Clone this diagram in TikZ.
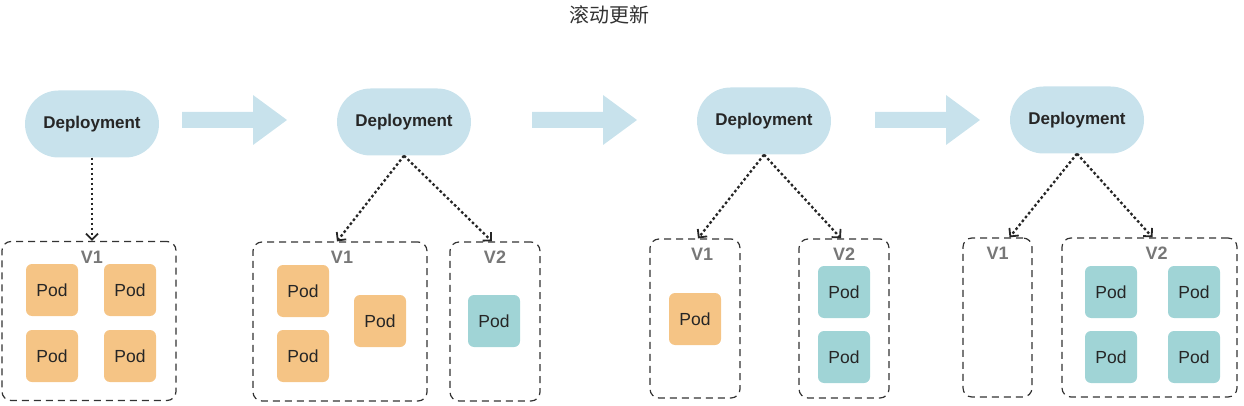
\documentclass[tikz,border=0pt]{standalone}
\usepackage{fontspec}
\setmainfont{Liberation Sans}
\newfontfamily\cjk{Noto Sans CJK SC}
\usetikzlibrary{arrows.meta}

\definecolor{deplblue}{HTML}{C8E2EC}
\definecolor{podorange}{HTML}{F5C485}
\definecolor{podteal}{HTML}{A0D4D6}
\definecolor{labelgray}{HTML}{777777}

\begin{document}
\begin{tikzpicture}[
      x=1pt, y=-1pt,
      every node/.style={font=\fontsize{17.5}{20}\selectfont, text=black!85},
      deploy/.style={fill=deplblue, rectangle, rounded corners=33.5pt,
        minimum width=134pt, minimum height=67pt, font=\fontsize{17}{20}\selectfont\bfseries},
      group/.style={draw=black!80, dash pattern=on 7pt off 5pt, line width=1.2pt,
        rounded corners=9pt, minimum height=159pt, inner sep=0pt},
      oldpod/.style={fill=podorange, rounded corners=6pt, minimum size=52pt, inner sep=0pt},
      newpod/.style={oldpod, fill=podteal},
      tag/.style={text=labelgray, font=\fontsize{18}{20}\selectfont\bfseries},
      link/.style={dash pattern=on 2.6pt off 2.4pt, line width=2.3pt, draw=black!85,
        -{Straight Barb[length=6pt,width=12pt,line width=1.8pt]}},
      flow/.style={fill=deplblue}
    ]
    \useasboundingbox (0,0) rectangle (1244,406);

    % Title
    \node[font=\cjk\fontsize{20}{22}\selectfont, text=black!80] (title) at (609,15) {滚动更新};

    % Deployments
    \node[deploy] (dep1) at (92,124) {Deployment};
    \node[deploy] (dep2) at (404,122) {Deployment};
    \node[deploy] (dep3) at (764,121) {Deployment};
    \node[deploy] (dep4) at (1077,120) {Deployment};

    % Big arrows between stages
    \foreach \x in {182,532,875}
      \fill[flow] (\x,112) -- ++(71,0) -- ++(0,-17) -- ++(34,25) -- ++(-34,25)
        -- ++(0,-17) -- ++(-71,0) -- cycle;

    % Groups
    \node[group, minimum width=174pt] (g11) at (89,321) {};
    \node[group, minimum width=174pt] (g21) at (340,321.5) {};
    \node[group, minimum width=90pt] (g22) at (495,321.5) {};
    \node[group, minimum width=90pt] (g31) at (695,318.5) {};
    \node[group, minimum width=90pt] (g32) at (844,318.5) {};
    \node[group, minimum width=69pt] (g41) at (997.5,317.5) {};
    \node[group, minimum width=175pt] (g42) at (1149.5,317.5) {};

    % Version tags
    \node[tag] (t11) at ([xshift=3pt,yshift=-16pt]g11.north) {V1};
    \node[tag] (t21) at ([xshift=2pt,yshift=-16pt]g21.north) {V1};
    \node[tag] (t22) at ([yshift=-16pt]g22.north) {V2};
    \node[tag] (t31) at ([xshift=7pt,yshift=-16pt]g31.north) {V1};
    \node[tag] (t32) at ([yshift=-16pt]g32.north) {V2};
    \node[tag] (t41) at ([yshift=-16pt]g41.north) {V1};
    \node[tag] (t42) at ([xshift=7pt,yshift=-16pt]g42.north) {V2};

    % Pods
    \node[oldpod] (p1a) at (52,290) {Pod};
    \node[oldpod] (p1b) at (130,290) {Pod};
    \node[oldpod] (p1c) at (52,356) {Pod};
    \node[oldpod] (p1d) at (130,356) {Pod};

    \node[oldpod] (p2a) at (303,291) {Pod};
    \node[oldpod] (p2b) at (303,356) {Pod};
    \node[oldpod] (p2c) at (380,321) {Pod};
    \node[newpod] (p2d) at (494,321) {Pod};

    \node[oldpod] (p3a) at (695,319) {Pod};
    \node[newpod] (p3b) at (844,292) {Pod};
    \node[newpod] (p3c) at (844,357) {Pod};

    \node[newpod] (p4a) at (1111,292) {Pod};
    \node[newpod] (p4b) at (1194,292) {Pod};
    \node[newpod] (p4c) at (1111,357) {Pod};
    \node[newpod] (p4d) at (1194,357) {Pod};

    % Links from deployments to groups
    \draw[link] (dep1.south) -- ([xshift=3pt]g11.north);
    \draw[link] (dep2.south) -- ([xshift=-3pt]g21.north);
    \draw[link] (dep2.south) -- ([xshift=-3pt]g22.north);
    \draw[link] (dep3.south) -- ([xshift=3pt]g31.north);
    \draw[link] (dep3.south) -- ([xshift=-3pt]g32.north);
    \draw[link] (dep4.south) -- ([xshift=12pt]g41.north);
    \draw[link] (dep4.south) -- ([xshift=3pt]g42.north);

    \end{tikzpicture}
\end{document}
